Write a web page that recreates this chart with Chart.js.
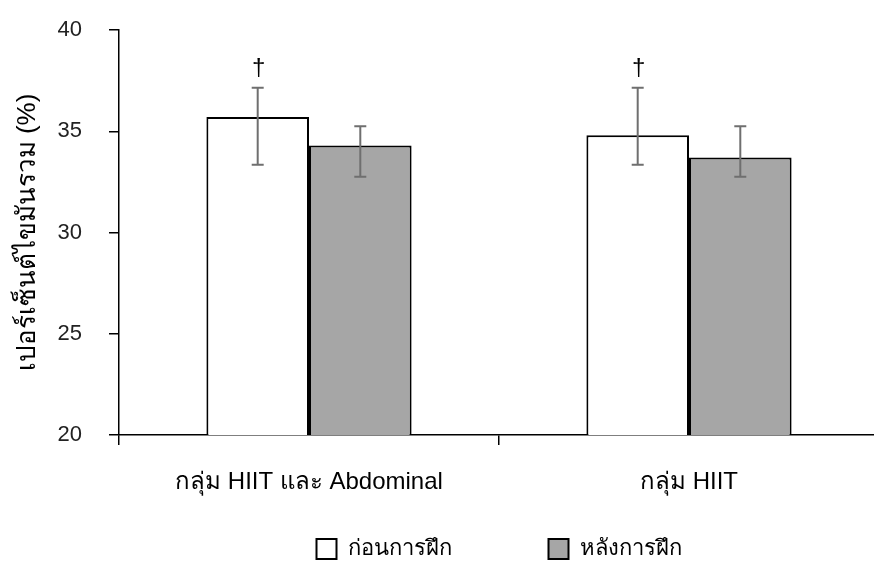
<!DOCTYPE html>
<html>
<head>
<meta charset="utf-8">
<script src="https://cdn.jsdelivr.net/npm/chart.js@4/dist/chart.umd.min.js"></script>
<style>
  html, body { margin: 0; padding: 0; overflow: hidden; background: #fff; width: 874px; height: 561px; }
  canvas { display: block; }
</style>
</head>
<body>
<canvas id="c" width="879" height="570"></canvas>
<script>
// Groups and series
const groups = ['กลุ่ม HIIT และ Abdominal', 'กลุ่ม HIIT'];
const seriesNames = ['ก่อนการฝึก', 'หลังการฝึก'];

// Mean body-fat percentage per group
const beforeMean = [35.7, 34.8];
const afterMean = [34.3, 33.7];

// Error bar ends (low / high)
const beforeLow = [33.35, 33.35];
const beforeHigh = [37.15, 37.15];
const afterLow = [32.75, 32.75];
const afterHigh = [35.25, 35.25];

// Significance marks above the "before" bars
const beforeMarks = ['†', '†'];

// Y axis ticks
const yTicks = [20, 25, 30, 35, 40];

const FONT = "'Liberation Sans', Arial, sans-serif";

const errorBars = {
  id: 'errorBars',
  afterDatasetsDraw(chart) {
    const ctx = chart.ctx;
    const y = chart.scales.y;
    chart.data.datasets.forEach((ds, di) => {
      const meta = chart.getDatasetMeta(di);
      meta.data.forEach((bar, i) => {
        const top = y.getPixelForValue(ds.errHigh[i]);
        const bot = y.getPixelForValue(ds.errLow[i]);
        ctx.save();
        ctx.strokeStyle = '#6f6f6f';
        ctx.lineWidth = 2;
        ctx.beginPath();
        ctx.moveTo(bar.x, top); ctx.lineTo(bar.x, bot);
        ctx.moveTo(bar.x - 6, top); ctx.lineTo(bar.x + 6, top);
        ctx.moveTo(bar.x - 6, bot); ctx.lineTo(bar.x + 6, bot);
        ctx.stroke();
        if (ds.marks && ds.marks[i]) {
          ctx.fillStyle = '#000';
          ctx.font = '24px ' + FONT;
          ctx.textAlign = 'center';
          ctx.textBaseline = 'alphabetic';
          ctx.fillText(ds.marks[i], bar.x + 1, top - 13);
        }
        ctx.restore();
      });
    });
  }
};

new Chart(document.getElementById('c'), {
  type: 'bar',
  data: {
    labels: groups,
    datasets: [
      {
        label: seriesNames[0],
        data: beforeMean,
        errLow: beforeLow,
        errHigh: beforeHigh,
        marks: beforeMarks,
        backgroundColor: '#ffffff',
        borderColor: '#000000',
        borderWidth: 2,
        barPercentage: 1.0,
        categoryPercentage: 0.54
      },
      {
        label: seriesNames[1],
        data: afterMean,
        errLow: afterLow,
        errHigh: afterHigh,
        backgroundColor: '#a6a6a6',
        borderColor: '#000000',
        borderWidth: 2,
        barPercentage: 1.0,
        categoryPercentage: 0.54
      }
    ]
  },
  options: {
    responsive: false,
    animation: false,
    devicePixelRatio: 1,
    layout: { padding: { top: 30, left: 0, right: 0, bottom: 0 } },
    plugins: {
      tooltip: { enabled: false },
      legend: {
        position: 'bottom',
        fullSize: false,
        labels: {
          color: '#000',
          font: { family: FONT, size: 22 },
          boxWidth: 20,
          boxHeight: 20,
          padding: 97
        }
      }
    },
    scales: {
      x: {
        afterFit(scale) {
          scale.height = 6;
          scale.paddingLeft = 0;
          scale.paddingRight = 0;
        },
        grid: {
          offset: true,
          drawOnChartArea: false,
          drawTicks: true,
          tickLength: 10,
          color: '#000',
          lineWidth: 1.5
        },
        border: { display: true, color: '#000', width: 1.5 },
        ticks: {
          color: '#000',
          font: { family: FONT, size: 24 },
          mirror: true,
          padding: -62,
          maxRotation: 0,
          autoSkip: false
        }
      },
      y: {
        min: 20,
        max: 40,
        afterFit(scale) {
          scale.width = 119;
          scale.paddingTop = 0;
          scale.paddingBottom = 0;
        },
        afterBuildTicks(scale) { scale.ticks = yTicks.map(v => ({ value: v })); },
        grid: {
          drawOnChartArea: false,
          drawTicks: true,
          tickLength: 10,
          color: '#000',
          lineWidth: 1.5
        },
        border: { display: true, color: '#000', width: 1.5 },
        ticks: {
          color: '#222',
          font: { family: FONT, size: 22 },
          padding: 27
        },
        title: {
          display: true,
          text: 'เปอร์เซ็นต์ไขมันรวม (%)',
          color: '#000',
          font: { family: FONT, size: 26 },
          padding: { top: 12, bottom: 0 }
        }
      }
    }
  },
  plugins: [errorBars]
});
</script>
</body>
</html>
